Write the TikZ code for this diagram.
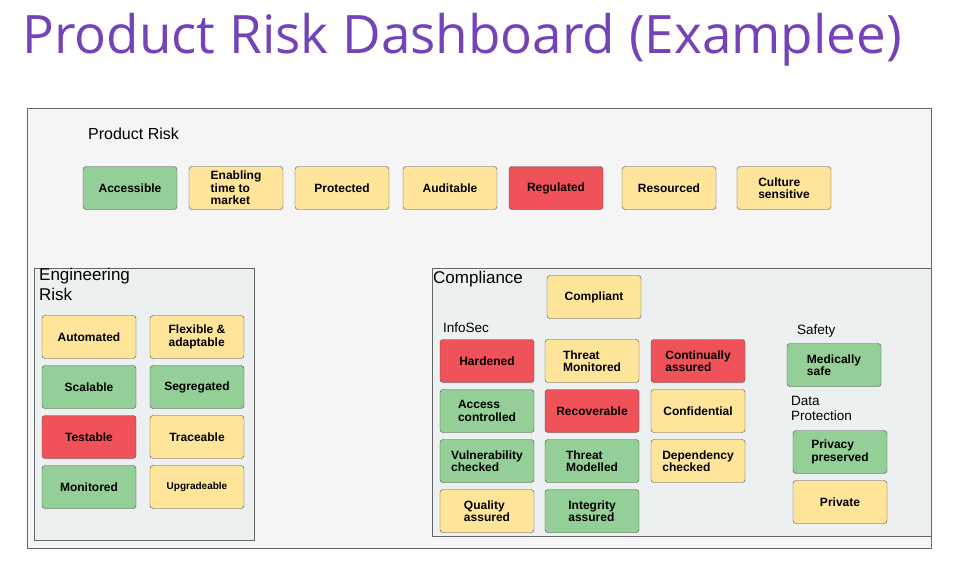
\documentclass[tikz,border=0pt]{standalone}
\usepackage{fontspec}
\setmainfont{Liberation Sans}
\newfontfamily\titlefont{Open Sans}
\definecolor{gfill}{HTML}{93CF96}
\definecolor{yfill}{HTML}{FFE59A}
\definecolor{rfill}{HTML}{F0525A}
\definecolor{ttl}{HTML}{7443B8}
\definecolor{subfill}{HTML}{EDF0F0}
\tikzset{
  x=1pt,y=-1pt,
  bx/.style={draw=black!70,rounded corners=3pt,minimum width=94pt,minimum height=43pt,font=\bfseries\fontsize{12}{12.5}\selectfont,align=left,inner sep=2pt},
  gb/.style={bx,fill=gfill},
  yb/.style={bx,fill=yfill},
  rb/.style={bx,fill=rfill},
  panel/.style={draw=black!60,fill=black!4},
  sub/.style={draw=black!60,fill=subfill},
  lbl/.style={anchor=west,inner sep=0pt,font=\fontsize{13.5}{15}\selectfont}
}
\begin{document}
\begin{tikzpicture}
\useasboundingbox (0,0) rectangle (956,560);
\fill[white] (0,0) rectangle (956,560);
\node[anchor=west,text=ttl,inner sep=0pt,font=\titlefont\fontsize{53}{56}\selectfont] (title) at (22,40) {Product Risk Dashboard (Examplee)};
\draw[panel] (27,108) rectangle (931,548);
\node[lbl,font=\fontsize{16}{17}\selectfont] (pr) at (88,134) {Product Risk};
\node[gb] (p1) at (130,188) {Accessible};
\node[yb] (p2) at (236,188) {Enabling\\time to\\market};
\node[yb] (p3) at (342,188) {Protected};
\node[yb] (p4) at (450,188) {Auditable};
\node[rb] (p5) at (556,188) {Regulated};
\node[yb] (p6) at (669,188) {Resourced};
\node[yb] (p7) at (784,188) {Culture\\sensitive};
% Engineering
\draw[sub] (34,268) rectangle (254,540);
\node[lbl,anchor=north west,align=left,font=\fontsize{17}{20}\selectfont] (er) at (39,268) {Engineering\\Risk};
\node[yb] (e1) at (89,337) {Automated};
\node[yb] (e2) at (197,337) {Flexible \&\\adaptable};
\node[gb] (e3) at (89,387) {Scalable};
\node[gb] (e4) at (197,387) {Segregated};
\node[rb] (e5) at (89,437) {Testable};
\node[yb] (e6) at (197,437) {Traceable};
\node[gb] (e7) at (89,487) {Monitored};
\node[yb,font=\bfseries\fontsize{10}{11}\selectfont] (e8) at (197,487) {Upgradeable};
% Compliance
\draw[sub] (432,268) rectangle (931,536);
\node[lbl,font=\fontsize{17}{18}\selectfont] (co) at (433,279) {Compliance};
\node[yb] (c0) at (594,297) {Compliant};
\node[lbl] (is) at (443,328) {InfoSec};
\node[rb] (i1) at (487,361) {Hardened};
\node[yb] (i2) at (592,361) {Threat\\Monitored};
\node[rb] (i3) at (698,361) {Continually\\assured};
\node[gb] (i4) at (487,411) {Access\\controlled};
\node[rb] (i5) at (592,411) {Recoverable};
\node[yb] (i6) at (698,411) {Confidential};
\node[gb] (i7) at (487,461) {Vulnerability\\checked};
\node[gb] (i8) at (592,461) {Threat\\Modelled};
\node[yb] (i9) at (698,461) {Dependency\\checked};
\node[yb] (i10) at (487,511) {Quality\\assured};
\node[gb] (i11) at (592,511) {Integrity\\assured};
\node[lbl] (sf) at (797,331) {Safety};
\node[gb] (s1) at (834,365) {Medically\\safe};
\node[lbl,anchor=north west,align=left] (dp) at (791,396) {Data\\Protection};
\node[gb] (d1) at (840,452) {Privacy\\preserved};
\node[yb] (d2) at (840,502) {Private};
\end{tikzpicture}
\end{document}
